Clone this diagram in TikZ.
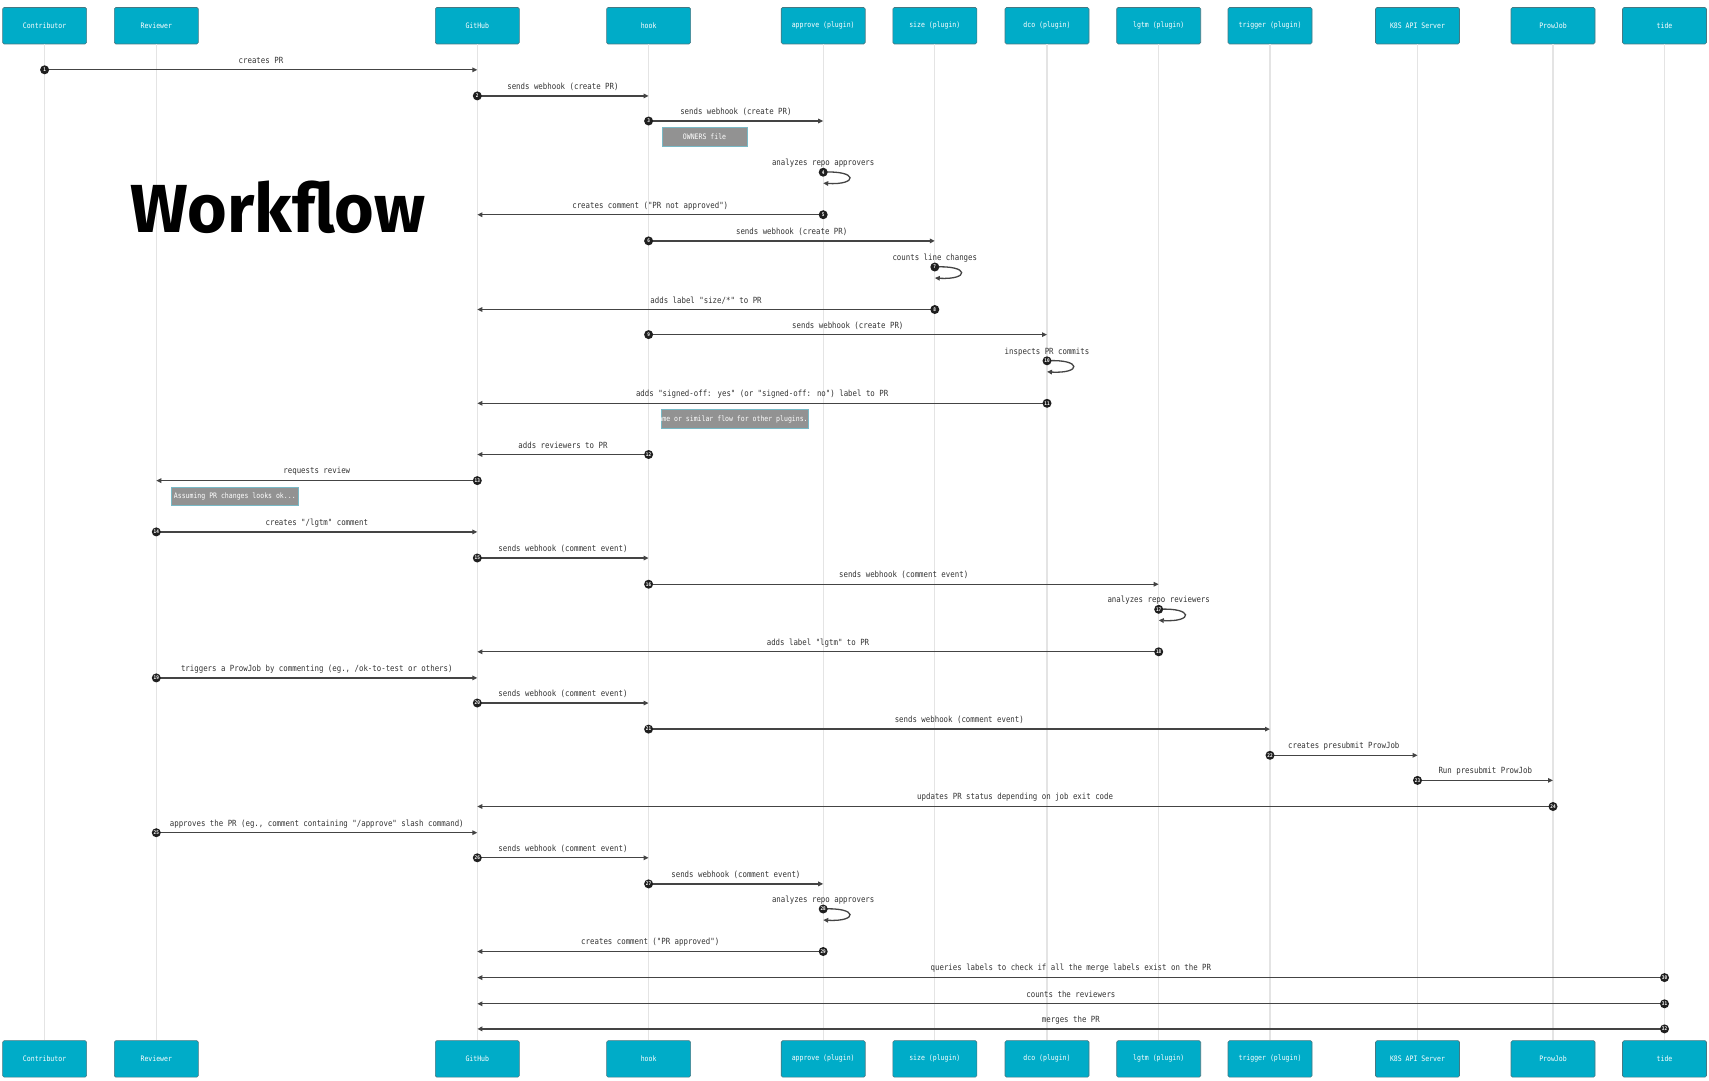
\documentclass[tikz,border=0pt]{standalone}
\usepackage{fontspec}
\usetikzlibrary{arrows.meta}
\newfontfamily\monof{DejaVu Sans Mono}[FakeStretch=0.87,Ligatures=TeXOff]
\newfontfamily\wffont{Fira Sans}
\definecolor{actorfill}{RGB}{0,172,200}
\definecolor{actorline}{RGB}{70,120,130}
\definecolor{notefill}{RGB}{146,146,146}
\definecolor{noteline}{RGB}{120,185,198}
\definecolor{lifecol}{RGB}{228,228,228}
\definecolor{msgcol}{RGB}{68,68,68}
\definecolor{txtcol}{RGB}{51,51,51}
\def\xC{44.6}\def\xR{156.3}\def\xG{477.3}\def\xH{648.6}\def\xA{823.2}\def\xS{934.8}
\def\xD{1047}\def\xL{1158.7}\def\xT{1270}\def\xK{1417.5}\def\xP{1553}\def\xI{1664.5}
\newcommand\Msg[5]{%
  \coordinate (s#4) at (#1,#3);
  \coordinate (e#4) at (#2,#3);
  \draw[msg] (s#4) -- (e#4);
  \node[num] (n#4) at (s#4) {#4};
  \node[lbl] (l#4) at ({(#1+#2)/2},{#3-9}) {#5};}
\newcommand\SelfMsg[4]{%
  \coordinate (s#3) at (#1,#2);
  \coordinate (e#3) at (#1,{#2+11});
  \draw[msg] (s#3) .. controls ({#1+35},{#2-2}) and ({#1+35},{#2+13}) .. (e#3);
  \node[num] (n#3) at (s#3) {#3};
  \node[lbl] (l#3) at (#1,{#2-9}) {#4};}
\newcommand\Actor[3]{%
  \node[actor] (t#1) at (#2,25.7) {#3};
  \node[actor] (b#1) at (#2,1058.9) {#3};
  \draw[life] (t#1.south) -- (b#1.north);}
\begin{document}
\begin{tikzpicture}[x=1pt,y=-1pt,
  actor/.style={rectangle, rounded corners=1.5pt, fill=actorfill, draw=actorline, line width=0.6pt,
    minimum width=84pt, minimum height=36.5pt, inner sep=0pt, text=white,
    font=\monof\fontsize{7.5}{9}\selectfont},
  life/.style={draw=lifecol, line width=1.2pt},
  msg/.style={draw=msgcol, line width=1.3pt, -{Triangle[length=5pt,width=4.5pt]}},
  num/.style={circle, fill=black!88, inner sep=0pt, minimum size=9pt, text=white,
    font=\monof\bfseries\fontsize{5}{5}\selectfont},
  lbl/.style={text=txtcol, inner sep=0pt, font=\monof\fontsize{8.5}{10}\selectfont},
  notebox/.style={rectangle, fill=notefill, draw=noteline, line width=1pt, inner sep=0pt},
  notetext/.style={text=white, inner sep=0pt, font=\monof\fontsize{7.5}{9}\selectfont},
]
\useasboundingbox[fill=white] (0,0) rectangle (1709,1080);

\Actor{C}{\xC}{Contributor}
\Actor{R}{\xR}{Reviewer}
\Actor{G}{\xG}{GitHub}
\Actor{H}{\xH}{hook}
\Actor{A}{\xA}{approve (plugin)}
\Actor{S}{\xS}{size (plugin)}
\Actor{D}{\xD}{dco (plugin)}
\Actor{L}{\xL}{lgtm (plugin)}
\Actor{T}{\xT}{trigger (plugin)}
\Actor{K}{\xK}{K8S API Server}
\Actor{P}{\xP}{ProwJob}
\Actor{I}{\xI}{tide}

\node[font=\wffont\bfseries\fontsize{68}{68}\selectfont, anchor=base, inner sep=0pt] (title) at (278,232) {Workflow};

\Msg{\xC}{\xG}{69.8}{1}{creates PR}
\Msg{\xG}{\xH}{95.9}{2}{sends webhook (create PR)}
\Msg{\xH}{\xA}{121.0}{3}{sends webhook (create PR)}
\node[notebox, minimum width=85pt, minimum height=19pt] (note1) at (704.5,137) {};
\node[notetext] (note1t) at (note1) {OWNERS file};
\SelfMsg{\xA}{172.2}{4}{analyzes repo approvers}
\Msg{\xA}{\xG}{214.7}{5}{creates comment ("PR not approved")}
\Msg{\xH}{\xS}{240.9}{6}{sends webhook (create PR)}
\SelfMsg{\xS}{267.0}{7}{counts line changes}
\Msg{\xS}{\xG}{309.5}{8}{adds label "size/*" to PR}
\Msg{\xH}{\xD}{334.6}{9}{sends webhook (create PR)}
\SelfMsg{\xD}{360.8}{10}{inspects PR commits}
\Msg{\xD}{\xG}{403.3}{11}{adds "signed-off: yes" (or "signed-off: no") label to PR}
\node[notebox, minimum width=147pt, minimum height=18.5pt] (note2) at (735,419) {};
\node[notetext] (note2t) at (note2) {Same or similar flow for other plugins...};
\Msg{\xH}{\xG}{454.5}{12}{adds reviewers to PR}
\Msg{\xG}{\xR}{480.6}{13}{requests review}
\node[notebox, minimum width=127.6pt, minimum height=18.5pt] (note3) at (234.8,496.5) {};
\node[notetext] (note3t) at (note3) {Assuming PR changes looks ok...};
\Msg{\xR}{\xG}{531.9}{14}{creates "/lgtm" comment}
\Msg{\xG}{\xH}{558.0}{15}{sends webhook (comment event)}
\Msg{\xH}{\xL}{584.2}{16}{sends webhook (comment event)}
\SelfMsg{\xL}{609.3}{17}{analyzes repo reviewers}
\Msg{\xL}{\xG}{651.8}{18}{adds label "lgtm" to PR}
\Msg{\xR}{\xG}{677.9}{19}{triggers a ProwJob by commenting (eg., /ok-to-test or others)}
\Msg{\xG}{\xH}{703.0}{20}{sends webhook (comment event)}
\Msg{\xH}{\xT}{729.1}{21}{sends webhook (comment event)}
\Msg{\xT}{\xK}{755.3}{22}{creates presubmit ProwJob}
\Msg{\xK}{\xP}{780.4}{23}{Run presubmit ProwJob}
\Msg{\xP}{\xG}{806.5}{24}{updates PR status depending on job exit code}
\Msg{\xR}{\xG}{832.7}{25}{approves the PR (eg., comment containing "/approve" slash command)}
\Msg{\xG}{\xH}{857.8}{26}{sends webhook (comment event)}
\Msg{\xH}{\xA}{883.9}{27}{sends webhook (comment event)}
\SelfMsg{\xA}{909.0}{28}{analyzes repo approvers}
\Msg{\xA}{\xG}{951.5}{29}{creates comment ("PR approved")}
\Msg{\xI}{\xG}{977.6}{30}{queries labels to check if all the merge labels exist on the PR}
\Msg{\xI}{\xG}{1003.8}{31}{counts the reviewers}
\Msg{\xI}{\xG}{1028.9}{32}{merges the PR}
\end{tikzpicture}
\end{document}
